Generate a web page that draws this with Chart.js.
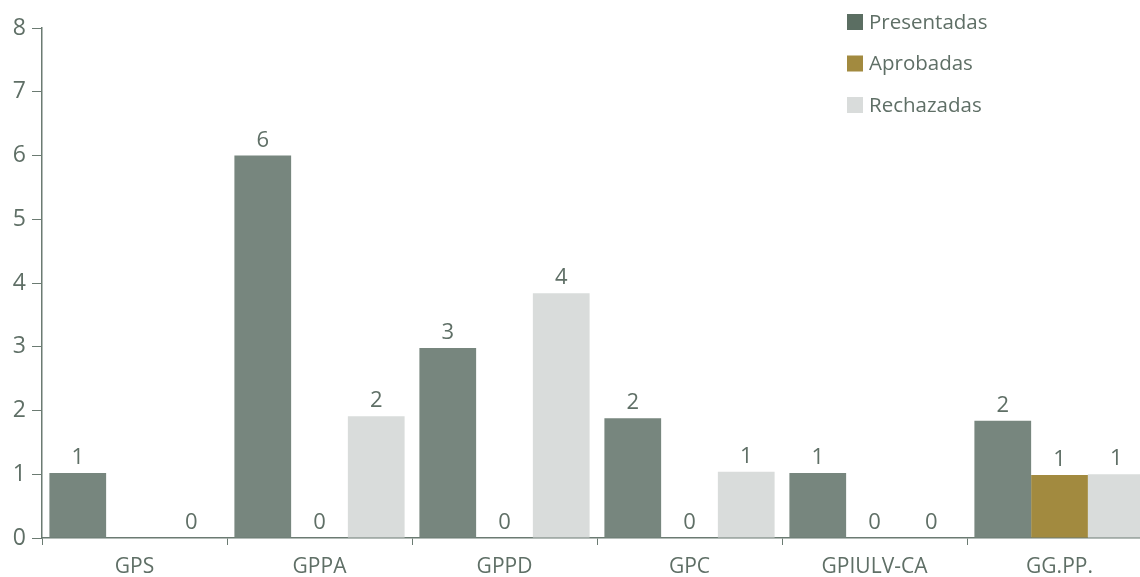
<!DOCTYPE html>
<html>
<head>
<meta charset="utf-8">
<script src="https://cdn.jsdelivr.net/npm/chart.js@4/dist/chart.umd.min.js"></script>
<style>
  body { margin: 0; background: #fff; overflow: hidden; }
  #wrap { width: 1152px; height: 577px; position: relative; }
</style>
</head>
<body>
<div id="wrap"><canvas id="grafico"></canvas></div>
<script>
const grupos = ['GPS', 'GPPA', 'GPPD', 'GPC', 'GPIULV-CA', 'GG.PP.'];
const presentadas = [1.02, 6.0, 2.98, 1.88, 1.02, 1.84];
const aprobadas = [null, 0, 0, 0, 0, 0.99];
const rechazadas = [0, 1.91, 3.84, 1.04, 0, 1.0];
const ticksY = [0, 1, 2, 3, 4, 5, 6, 7, 8];

const colorTexto = '#5f6f66';
const fuente = "'Open Sans', sans-serif";

// etiquetas encima de cada barra
const etiquetas = {
    id: 'etiquetas',
    afterDatasetsDraw(chart) {
        const ctx = chart.ctx;
        ctx.save();
        ctx.fillStyle = colorTexto;
        ctx.font = '22px ' + fuente;
        ctx.textAlign = 'center';
        ctx.textBaseline = 'alphabetic';
        chart.data.datasets.forEach((ds, i) => {
            chart.getDatasetMeta(i).data.forEach((bar, j) => {
                if (ds.data[j] === null) return;
                ctx.fillText(String(Math.round(ds.data[j])), bar.x, bar.y - 9);
            });
        });
        ctx.restore();
    }
};

// leyenda vertical arriba a la derecha
const leyenda = {
    id: 'leyenda',
    afterDraw(chart) {
        const ctx = chart.ctx;
        ctx.save();
        ctx.font = '20.5px ' + fuente;
        ctx.textBaseline = 'middle';
        chart.data.datasets.forEach((ds, i) => {
            const y = 22 + i * 41.5;
            ctx.fillStyle = ds.legendColor;
            ctx.fillRect(847, y - 8, 16, 16);
            ctx.fillStyle = colorTexto;
            ctx.fillText(ds.label, 869, y + 1);
        });
        ctx.restore();
    }
};

new Chart(document.getElementById('grafico'), {
    type: 'bar',
    data: {
        labels: grupos,
        datasets: [
            { label: 'Presentadas', data: presentadas, backgroundColor: '#77867e', legendColor: '#5b6e62' },
            { label: 'Aprobadas', data: aprobadas, backgroundColor: '#a28a3f', legendColor: '#a28a3f' },
            { label: 'Rechazadas', data: rechazadas, backgroundColor: '#d9dcdb', legendColor: '#d9dcdb' }
        ]
    },
    options: {
        responsive: true,
        maintainAspectRatio: false,
        animation: false,
        layout: { padding: { top: 28, right: 0, left: 0, bottom: 0 } },
        datasets: { bar: { categoryPercentage: 0.92, barPercentage: 1.0 } },
        plugins: {
            legend: { display: false },
            tooltip: { enabled: false }
        },
        scales: {
            x: {
                grid: { drawOnChartArea: false, offset: true, color: '#6b7b72', tickLength: 7, lineWidth: 1 },
                border: { color: '#6b7b72', width: 1.5 },
                ticks: { color: colorTexto, font: { family: fuente, size: 21 }, padding: 9 },
                afterFit(scale) { scale.height = 39; }
            },
            y: {
                min: 0,
                max: 8,
                grid: { drawOnChartArea: false, color: '#6b7b72', tickLength: 10 },
                border: { color: '#6b7b72', width: 1.5 },
                afterBuildTicks(scale) { scale.ticks = ticksY.map(v => ({ value: v })); },
                ticks: { color: colorTexto, font: { family: fuente, size: 23 }, padding: 6 },
                afterFit(scale) { scale.width = 42; }
            }
        }
    },
    plugins: [etiquetas, leyenda]
});
</script>
</body>
</html>
